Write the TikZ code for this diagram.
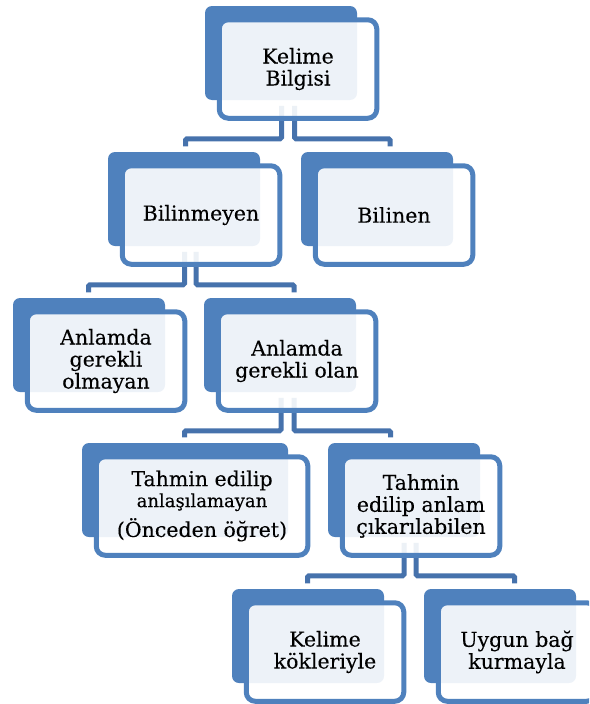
\documentclass[tikz,border=0pt]{standalone}
\usepackage{fontspec}
\setmainfont{DejaVu Serif}[FakeBold=0.15]
\usetikzlibrary{backgrounds}
\definecolor{boxblue}{HTML}{4F81BD}
\definecolor{connblue}{HTML}{4672AC}
\tikzset{
  backfill/.style={fill=boxblue, rounded corners=7pt},
  fbox/.style={draw=boxblue, line width=5pt, fill=white, fill opacity=0.9,
    draw opacity=1, text opacity=1, rounded corners=9pt, minimum height=98.5pt,
    align=center, inner sep=0pt, font=\fontsize{20.5}{22}\selectfont, text=black},
  conn/.style={draw=connblue, line width=5pt, rounded corners=1.5pt}
}
\newcommand{\kutu}[5]{%
  \fill[backfill] (#2,#3) rectangle ++(#4,94);
  \node[fbox, minimum width={#4+5.5}] (#1) at ({#2+#4/2+17},{#3+63}) {#5};
}
\begin{document}
\begin{tikzpicture}[x=1pt,y=-1pt]
\useasboundingbox (0,0) rectangle (589,704);
\clip (0,0) rectangle (589,704);
\kutu{n1}{205}{6}{152}{Kelime\\Bilgisi}
\kutu{n2}{108}{152}{152}{Bilinmeyen}
\kutu{n3}{301}{152}{152}{Bilinen}
\kutu{n4}{13}{298}{152}{Anlamda\\gerekli\\olmayan}
\kutu{n5}{204}{298}{152}{Anlamda\\gerekli olan}
\kutu{n6}{82}{443}{206}{Tahmin edilip\\[-1pt]{\fontsize{18}{19}\selectfont anlaşılamayan}\\[6pt](Önceden öğret)}
\kutu{n7}{328}{443}{152}{Tahmin\\edilip anlam\\çıkarılabilen}
\kutu{n8}{232}{589}{152}{Kelime\\kökleriyle}
\kutu{n9}{424}{589}{152}{Uygun bağ\\kurmayla}
\begin{pgfonlayer}{background}
\draw[conn] ([xshift=-16.5pt,yshift=15pt]n1.south) -- ++(0,33) -| ([xshift=-15.5pt,yshift=17pt]n2.north);
\draw[conn] ([xshift=-3.5pt,yshift=15pt]n1.south) -- ++(0,33) -| ([xshift=-4pt,yshift=17pt]n3.north);
\draw[conn] ([xshift=-16.5pt,yshift=15pt]n2.south) -- ++(0,33) -| ([xshift=-17.5pt,yshift=17pt]n4.north);
\draw[conn] ([xshift=-5pt,yshift=15pt]n2.south) -- ++(0,33) -| ([xshift=-3pt,yshift=17pt]n5.north);
\draw[conn] ([xshift=-16pt,yshift=15pt]n5.south) -- ++(0,33) -| ([xshift=-17.5pt,yshift=17pt]n6.north);
\draw[conn] ([xshift=-3pt,yshift=15pt]n5.south) -- ++(0,33) -| ([xshift=-30.5pt,yshift=17pt]n7.north);
\draw[conn] ([xshift=-17pt,yshift=15pt]n7.south) -- ++(0,33) -| ([xshift=-17.5pt,yshift=17pt]n8.north);
\draw[conn] ([xshift=-5pt,yshift=15pt]n7.south) -- ++(0,33) -| ([xshift=-2.5pt,yshift=17pt]n9.north);
\end{pgfonlayer}
\end{tikzpicture}
\end{document}
